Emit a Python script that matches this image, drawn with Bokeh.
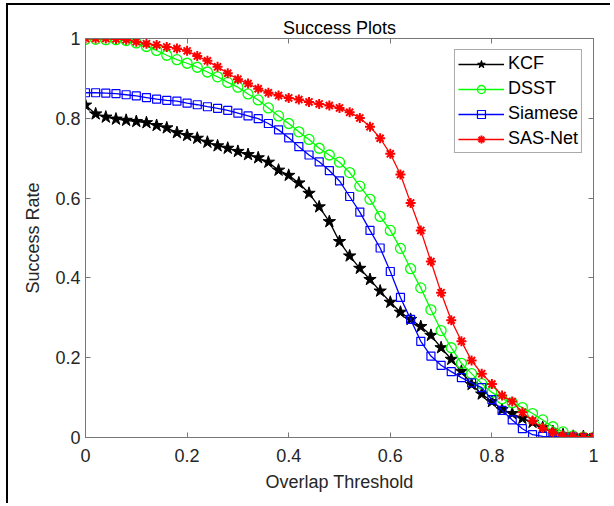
from bokeh.plotting import figure
from bokeh.models import Range1d, LinearAxis, FixedTicker, Legend, LegendItem
from bokeh.embed import file_html
from bokeh.resources import INLINE

thresholds = [0.00, 0.02, 0.04, 0.06, 0.08, 0.10, 0.12, 0.14, 0.16, 0.18,
              0.20, 0.22, 0.24, 0.26, 0.28, 0.30, 0.32, 0.34, 0.36, 0.38,
              0.40, 0.42, 0.44, 0.46, 0.48, 0.50, 0.52, 0.54, 0.56, 0.58,
              0.60, 0.62, 0.64, 0.66, 0.68, 0.70, 0.72, 0.74, 0.76, 0.78,
              0.80, 0.82, 0.84, 0.86, 0.88, 0.90, 0.92, 0.94, 0.96, 0.98, 1.00]

kcf = [0.833, 0.811, 0.803, 0.798, 0.795, 0.792, 0.789, 0.782, 0.776, 0.764,
       0.757, 0.750, 0.740, 0.731, 0.725, 0.717, 0.709, 0.701, 0.690, 0.670,
       0.657, 0.638, 0.612, 0.578, 0.541, 0.491, 0.455, 0.424, 0.396, 0.367,
       0.339, 0.314, 0.296, 0.278, 0.256, 0.225, 0.196, 0.166, 0.133, 0.109,
       0.090, 0.070, 0.060, 0.048, 0.038, 0.025, 0.015, 0.007, 0.003, 0.002, 0.000]

dsst = [0.998, 0.998, 0.997, 0.997, 0.995, 0.989, 0.980, 0.970, 0.958, 0.947,
        0.938, 0.928, 0.916, 0.904, 0.890, 0.878, 0.861, 0.846, 0.826, 0.806,
        0.787, 0.766, 0.747, 0.725, 0.708, 0.690, 0.664, 0.630, 0.597, 0.554,
        0.519, 0.474, 0.423, 0.375, 0.320, 0.268, 0.225, 0.186, 0.160, 0.135,
        0.113, 0.097, 0.087, 0.075, 0.060, 0.044, 0.027, 0.014, 0.004, 0.001, 0.000]

siamese = [0.864, 0.864, 0.863, 0.862, 0.859, 0.856, 0.852, 0.848, 0.845, 0.843,
           0.838, 0.834, 0.829, 0.825, 0.820, 0.813, 0.806, 0.799, 0.787, 0.771,
           0.751, 0.729, 0.708, 0.691, 0.669, 0.643, 0.604, 0.565, 0.519, 0.475,
           0.416, 0.351, 0.296, 0.241, 0.204, 0.181, 0.165, 0.150, 0.137, 0.125,
           0.095, 0.068, 0.044, 0.022, 0.007, 0.003, 0.002, 0.001, 0.001, 0.000, 0.000]

sasnet = [1.000, 1.000, 1.000, 0.999, 0.997, 0.992, 0.987, 0.984, 0.979, 0.975,
          0.969, 0.956, 0.944, 0.929, 0.913, 0.898, 0.887, 0.874, 0.864, 0.857,
          0.851, 0.847, 0.841, 0.836, 0.832, 0.826, 0.815, 0.801, 0.779, 0.750,
          0.711, 0.659, 0.588, 0.519, 0.441, 0.363, 0.294, 0.241, 0.193, 0.160,
          0.134, 0.105, 0.090, 0.063, 0.042, 0.024, 0.013, 0.005, 0.003, 0.002, 0.001]

series_names = ["KCF", "DSST", "Siamese", "SAS-Net"]
tick_values = [0, 0.2, 0.4, 0.6, 0.8, 1]
tick_labels = ["0", "0.2", "0.4", "0.6", "0.8", "1"]

FONT = "Liberation Sans"
AXIS_COL = "#777777"
TEXT_COL = "#262626"

p = figure(width=604, height=500,
           x_range=Range1d(0, 1), y_range=Range1d(0, 1),
           output_backend="svg", toolbar_location=None,
           min_border_left=77, min_border_right=19,
           min_border_top=33, min_border_bottom=68,
           title="Success Plots")
p.margin = (5, 0, 0, 8)
p.styles = {"box-shadow": "-2px -2px 0px 0px black"}
p.background_fill_color = "white"
p.border_fill_color = "white"
p.outline_line_color = AXIS_COL
p.xgrid.visible = False
p.ygrid.visible = False

p.title.align = "center"
p.title.text_font = FONT
p.title.text_font_size = "18px"
p.title.text_font_style = "normal"
p.title.text_color = "black"
p.title.standoff = 1

overrides = {v: l for v, l in zip(tick_values, tick_labels)}

def style_axis(ax, show_labels):
    ax.ticker = FixedTicker(ticks=tick_values)
    ax.axis_line_color = AXIS_COL
    ax.major_tick_line_color = AXIS_COL
    ax.major_tick_in = 5
    ax.major_tick_out = 0
    ax.minor_tick_line_color = None
    if show_labels:
        ax.major_label_overrides = overrides
        ax.major_label_text_font = FONT
        ax.major_label_text_font_size = "18px"
        ax.major_label_text_color = TEXT_COL
        ax.axis_label_text_font = FONT
        ax.axis_label_text_font_size = "18px"
        ax.axis_label_text_font_style = "normal"
        ax.axis_label_text_color = TEXT_COL
    else:
        ax.major_label_text_font_size = "1px"
        ax.major_label_text_color = None
        ax.major_label_standoff = 0

style_axis(p.xaxis[0], True)
style_axis(p.yaxis[0], True)
p.xaxis[0].axis_label = "Overlap Threshold"
p.yaxis[0].axis_label = "Success Rate"
p.xaxis[0].major_label_standoff = 11
p.xaxis[0].axis_label_standoff = 7
p.yaxis[0].major_label_standoff = 5
p.yaxis[0].axis_label_standoff = 9

top_ax = LinearAxis()
right_ax = LinearAxis()
style_axis(top_ax, False)
style_axis(right_ax, False)
p.add_layout(top_ax, "above")
p.add_layout(right_ax, "right")

r_k_l = p.line(thresholds, kcf, line_color="black", line_width=1.3)
r_k_m = p.scatter(thresholds, kcf, marker="star", size=13, line_color="black",
                  fill_color="black", line_width=1)
r_d_l = p.line(thresholds, dsst, line_color="#00ff00", line_width=1.3)
r_d_m = p.scatter(thresholds, dsst, marker="circle", size=10, line_color="#00ff00",
                  fill_color=None, line_width=1.3)
r_s_l = p.line(thresholds, siamese, line_color="#0000ff", line_width=1.3)
r_s_m = p.scatter(thresholds, siamese, marker="square", size=8, line_color="#0000ff",
                  fill_color=None, line_width=1.2)
r_r_l = p.line(thresholds, sasnet, line_color="#ff0000", line_width=1.3)
r_r_m = p.scatter(thresholds, sasnet, marker="asterisk", size=10, line_color="#ff0000",
                  line_width=2)

legend = Legend(items=[
    LegendItem(label=series_names[0], renderers=[r_k_l, r_k_m]),
    LegendItem(label=series_names[1], renderers=[r_d_l, r_d_m]),
    LegendItem(label=series_names[2], renderers=[r_s_l, r_s_m]),
    LegendItem(label=series_names[3], renderers=[r_r_l, r_r_m]),
], location="top_right")
legend.margin = 11
legend.padding = 3
legend.spacing = 4
legend.glyph_width = 46
legend.glyph_height = 20
legend.label_height = 20
legend.label_standoff = 4
legend.label_text_font = FONT
legend.label_text_font_size = "18px"
legend.label_text_color = "black"
legend.border_line_color = "#555555"
legend.border_line_width = 1
legend.background_fill_color = "white"
legend.background_fill_alpha = 1
p.add_layout(legend)

open("out.html", "w").write(file_html(p, INLINE))
